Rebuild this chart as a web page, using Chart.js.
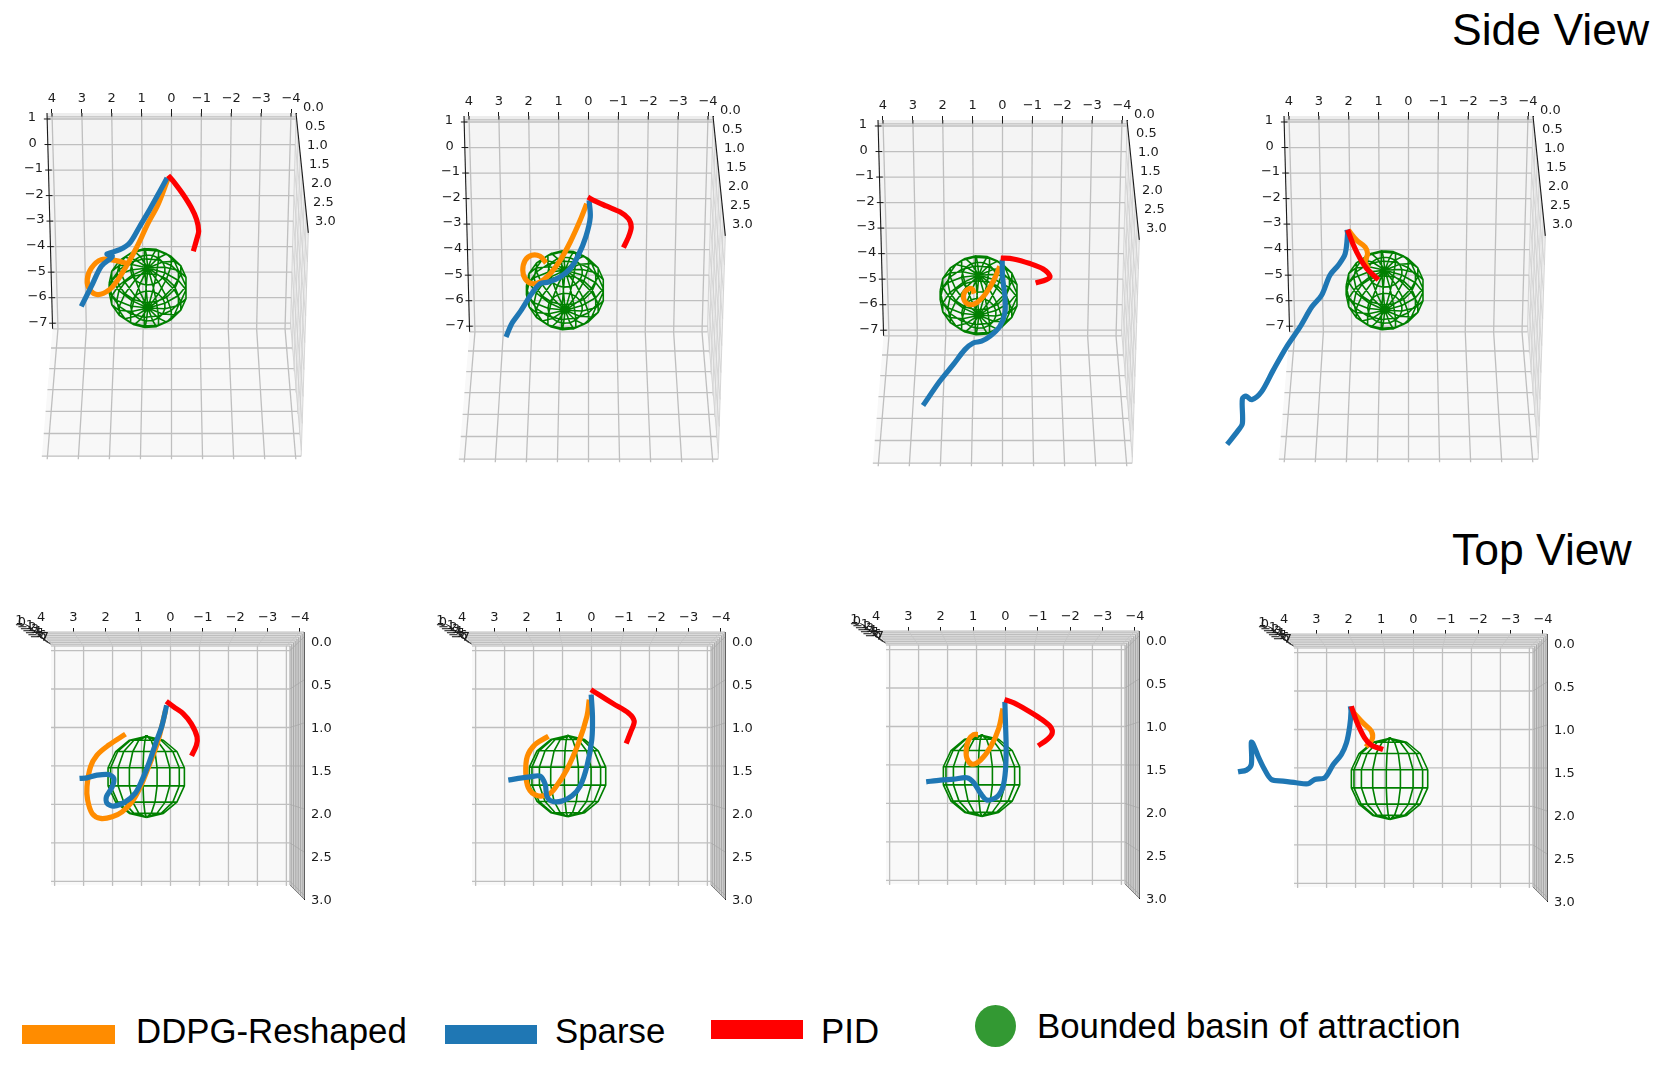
<!DOCTYPE html>
<html>
<head>
<meta charset="utf-8">
<script src="https://cdn.jsdelivr.net/npm/chart.js@4"></script>
<style>
html,body{margin:0;padding:0;background:#fff}
#page{position:relative;width:1669px;height:1067px;overflow:hidden;background:#fff;font-family:"Liberation Sans",Arial,sans-serif;color:#000}
canvas{position:absolute}
.t{position:absolute;white-space:nowrap;line-height:1}
.sw{position:absolute}
</style>
</head>
<body>
<div id="page">
<div class="t" style="left:1452px;top:8px;font-size:44.5px">Side View</div>
<div class="t" style="left:1452px;top:528px;font-size:44.5px">Top View</div>
<div class="sw" style="left:22px;top:1025px;width:93px;height:19px;background:#ff8c00"></div>
<div class="t" style="left:136px;top:1014px;font-size:34.8px">DDPG-Reshaped</div>
<div class="sw" style="left:445px;top:1025px;width:92px;height:19px;background:#1f77b4"></div>
<div class="t" style="left:555px;top:1014px;font-size:34.8px">Sparse</div>
<div class="sw" style="left:711px;top:1020px;width:92px;height:19px;background:#ff0000"></div>
<div class="t" style="left:821px;top:1014px;font-size:34.8px">PID</div>
<div class="sw" style="left:975px;top:1005px;width:41px;height:42px;border-radius:50%;background:#339933"></div>
<div class="t" style="left:1037px;top:1009px;font-size:34.8px">Bounded basin of attraction</div>
</div>
<script>
// ---- tick labels ----
const xTickValues=[4,3,2,1,0,-1,-2,-3,-4];
const sideYTicks=[1,0,-1,-2,-3,-4,-5,-6,-7];
const depthTicks=[0,0.5,1,1.5,2,2.5,3];

// ---- side view trajectories: [x, z] ----
const side1Red=[[.11,-1.21],[-.11,-1.51],[-.39,-1.96],[-.67,-2.49],[-.84,-2.94],[-.91,-3.40],[-.84,-3.73],[-.73,-4.18]];
const side1Blue=[[.15,-1.31],[.39,-1.83],[.73,-2.55],[1.06,-3.20],[1.40,-3.86],[1.73,-4.12],[2.16,-4.29],[1.98,-4.38],[2.35,-4.77],[2.68,-5.55],[3.02,-6.34]];
const side1Orange=[[.11,-1.31],[.45,-2.35],[.78,-3.07],[1.12,-3.92],[1.45,-4.64],[1.79,-5.29],[2.07,-5.68],[2.46,-5.88],[2.74,-5.68],[2.82,-5.29],[2.68,-4.84],[2.35,-4.51],[1.90,-4.54],[1.45,-4.67]];
const side2Red=[[.02,-1.94],[-.17,-2.07],[-.61,-2.30],[-1.06,-2.53],[-1.34,-2.79],[-1.43,-3.11],[-1.34,-3.50],[-1.17,-3.92]];
const side2Blue=[[-.02,-2.07],[-.06,-2.72],[.09,-3.50],[.34,-4.22],[.61,-4.74],[.95,-5.07],[1.34,-5.27],[1.62,-5.33],[1.90,-5.72],[2.29,-6.44],[2.57,-6.90],[2.76,-7.42]];
const side2Orange=[[.06,-2.20],[.28,-2.85],[.61,-3.70],[.95,-4.42],[1.28,-4.94],[1.62,-5.27],[1.90,-5.33],[2.12,-5.14],[2.20,-4.81],[2.12,-4.42],[1.90,-4.22],[1.62,-4.26],[1.42,-4.52]];
const side3Red=[[.06,-4.17],[-.36,-4.21],[-.92,-4.39],[-1.36,-4.60],[-1.59,-4.89],[-1.47,-5.02],[-1.11,-5.15]];
const side3Blue=[[.01,-4.24],[0,-4.89],[-.08,-5.67],[-.08,-6.32],[.09,-6.85],[.42,-7.24],[.70,-7.43],[.98,-7.50],[1.26,-7.76],[1.65,-8.35],[2.10,-9.00],[2.66,-9.95]];
const side3Orange=[[.09,-4.50],[.31,-5.08],[.59,-5.61],[.87,-5.93],[1.09,-6.00],[1.26,-5.87],[1.30,-5.61],[1.18,-5.41],[1.01,-5.38],[.95,-5.57]];
const side4Red=[[2.04,-3.22],[1.84,-3.83],[1.62,-4.35],[1.40,-4.74],[1.01,-5.18]];
const side4Blue=[[2.06,-3.22],[2.04,-3.37],[2.12,-4.16],[2.35,-4.61],[2.63,-5.00],[2.91,-5.79],[3.24,-6.25],[3.63,-7.03],[4.08,-7.81],[4.53,-8.73],[4.92,-9.57],[5.25,-9.88],[5.44,-9.74],[5.56,-9.84],[5.56,-10.81],[5.70,-11.08],[6.07,-11.63]];
const side4Orange=[[2.01,-3.24],[1.73,-3.64],[1.45,-3.90],[1.37,-4.16],[1.45,-4.48],[1.34,-4.74]];

// ---- top view trajectories: [x, y] ----
const top1Red=[[.13,.747],[-.10,.813],[-.39,.890],[-.64,1.007],[-.82,1.161],[-.80,1.258],[-.65,1.382]];
const top1Blue=[[.12,.794],[.26,1.026],[.46,1.239],[.67,1.471],[.88,1.665],[1.08,1.812],[1.39,1.916],[1.75,1.967],[1.96,1.936],[1.98,1.858],[1.80,1.742],[1.75,1.645],[1.91,1.599],[2.27,1.607],[2.58,1.638],[2.81,1.645]];
const top1Orange=[[.15,.852],[.41,1.239],[.72,1.549],[.93,1.742],[1.19,1.916],[1.49,2.032],[1.80,2.091],[2.16,2.110],[2.42,2.052],[2.56,1.897],[2.58,1.742],[2.47,1.510],[2.27,1.374],[1.91,1.258],[1.39,1.130]];
const top2Red=[[.02,.612],[-.27,.681],[-.68,.778],[-1.14,.883],[-1.32,.979],[-1.22,1.096],[-1.07,1.239]];
const top2Blue=[[.01,.670],[-.03,.921],[-.01,1.192],[.14,1.502],[.35,1.734],[.61,1.850],[.92,1.909],[1.23,1.909],[1.38,1.850],[1.43,1.715],[1.59,1.618],[1.90,1.626],[2.26,1.645],[2.57,1.665]];
const top2Orange=[[.07,.728],[.14,.921],[.40,1.231],[.76,1.541],[1.12,1.754],[1.33,1.831],[1.69,1.843],[1.95,1.754],[2.03,1.580],[1.98,1.386],[1.74,1.250],[1.33,1.154]];
const top3Red=[[.03,.739],[-.26,.778],[-.67,.863],[-1.08,.960],[-1.39,1.057],[-1.44,1.134],[-1.29,1.204],[-1.01,1.277]];
const top3Blue=[[.02,.767],[0,1.018],[-.02,1.289],[0,1.560],[.08,1.754],[.26,1.870],[.57,1.909],[.77,1.831],[.98,1.707],[1.19,1.649],[1.60,1.665],[2.01,1.676],[2.45,1.696]];
const top3Orange=[[.08,.844],[.21,1.076],[.46,1.289],[.77,1.444],[1.03,1.491],[1.19,1.425],[1.21,1.309],[1.13,1.204],[.98,1.146],[.85,1.146]];
const top4Red=[[1.92,.782],[1.76,.956],[1.51,1.150],[1.30,1.235],[.94,1.285]];
const top4Blue=[[1.95,.782],[1.93,.840],[1.97,1.014],[2.07,1.208],[2.23,1.344],[2.48,1.460],[2.74,1.614],[3.05,1.634],[3.26,1.684],[3.62,1.672],[4.03,1.653],[4.39,1.634],[4.60,1.518],[4.80,1.363],[4.96,1.216],[5.01,1.200],[5.01,1.460],[5.16,1.525],[5.42,1.545]];
const top4Orange=[[1.89,.840],[1.56,.976],[1.30,1.072],[1.28,1.169],[1.47,1.254]];

// ---- basin spheres: [centre x, centre y, radius x, radius y] ----
const side1Sphere=[.79,-5.62,1.33,1.57];
const side2Sphere=[.78,-5.59,1.33,1.57];
const side3Sphere=[.79,-5.63,1.33,1.57];
const side4Sphere=[.79,-5.59,1.33,1.57];
const top1Sphere=[.74,1.626,1.22,.472];
const top2Sphere=[.73,1.618,1.22,.472];
const top3Sphere=[.73,1.626,1.22,.472];
const top4Sphere=[.73,1.626,1.22,.472];

// ---- panel layout ----
const sidePanels=[
 {ox:171.67,oy:113.33,red:side1Red,blue:side1Blue,orange:side1Orange,sphere:side1Sphere},
 {ox:588.33,oy:115.67,red:side2Red,blue:side2Blue,orange:side2Orange,sphere:side2Sphere},
 {ox:1002.67,oy:120.33,red:side3Red,blue:side3Blue,orange:side3Orange,sphere:side3Sphere},
 {ox:1408.33,oy:115.67,red:side4Red,blue:side4Blue,orange:side4Orange,sphere:side4Sphere}];
const topPanels=[
 {ox:170,oy:631.67,red:top1Red,blue:top1Blue,orange:top1Orange,sphere:top1Sphere},
 {ox:591.33,oy:632.33,red:top2Red,blue:top2Blue,orange:top2Orange,sphere:top2Sphere},
 {ox:1005,oy:630.67,red:top3Red,blue:top3Blue,orange:top3Orange,sphere:top3Sphere},
 {ox:1413.67,oy:634.33,red:top4Red,blue:top4Blue,orange:top4Orange,sphere:top4Sphere}];

const TICK_FONT={family:'"DejaVu Sans"',size:13};
const TEXT='#1c1c1c', AXIS='#1a1a1a', GRID='#bfbfbf';
const minusFmt=v=>v<0?'\u2212'+(-v):String(v);
const toPts=a=>a.map(p=>({x:p[0],y:p[1]}));

// wireframe of the basin
function wire(s,tiltDeg){
  const [cx,cy,rx,ry]=s, a=tiltDeg*Math.PI/180, pts=[];
  const sa=Math.sin(a), ca=Math.cos(a), N=17, M=7;
  const P=(t,f)=>({x:cx+rx*Math.sin(t)*Math.cos(f),y:cy+ry*(Math.cos(t)*sa+Math.sin(t)*Math.sin(f)*ca)});
  for(let j=1;j<M;j++){for(let i=0;i<=N;i++)pts.push(P(j*Math.PI/M,i*2*Math.PI/N));pts.push({x:null,y:null});}
  for(let i=0;i<N;i++){for(let j=0;j<=M;j++)pts.push(P(j*Math.PI/M,i*2*Math.PI/N));pts.push({x:null,y:null});}
  return pts;
}
function datasets(p,tilt){
  const line=(d,c,w,lbl,ten)=>({label:lbl,data:d,showLine:true,borderColor:c,backgroundColor:c,borderWidth:w,pointRadius:0,tension:ten,clip:false,spanGaps:false,borderCapStyle:'butt',borderJoinStyle:'round'});
  return [
    line(toPts(p.red),'#ff0000',5.2,'PID',.3),
    line(toPts(p.blue),'#1f77b4',5.2,'Sparse',.3),
    line(toPts(p.orange),'#ff8c00',5.2,'DDPG-Reshaped',.35),
    line(wire(p.sphere,tilt),'#008000',1.6,'Bounded basin of attraction',0)
  ];
}
const lerp=(a,b,t)=>[a[0]+(b[0]-a[0])*t,a[1]+(b[1]-a[1])*t];

// ---- side view box drawn through the chart's scales ----
const S={yTop:1.235,yCeil:1.08,yB:-7.22,yF:-12.21,hTop:4.167,hB:3.98,hF:4.34,kB:.95,kF:1.04};
const sideFloorY=[-7.97,-8.78,-9.60,-10.45,-11.32,-12.21];
function sideHalf(y){return y>=S.yB? S.hB+(S.hTop-S.hB)*(y-S.yB)/(S.yTop-S.yB) : S.hB+(S.hF-S.hB)*(S.yB-y)/(S.yB-S.yF);}
const sidePlugin={id:'sideBox',beforeDatasetsDraw(c){
  const g=c.ctx,X=c.scales.x,Y=c.scales.y,P=(p)=>[X.getPixelForValue(p[0]),Y.getPixelForValue(p[1])];
  const poly=(pts,f)=>{g.beginPath();pts.map(P).forEach((q,i)=>i?g.lineTo(q[0],q[1]):g.moveTo(q[0],q[1]));g.closePath();g.fillStyle=f;g.fill();};
  const seg=(a,b,col,w)=>{a=P(a);b=P(b);g.beginPath();g.moveTo(a[0],a[1]);g.lineTo(b[0],b[1]);g.strokeStyle=col;g.lineWidth=w;g.stroke();};
  g.save();
  const hC=sideHalf(S.yCeil);
  poly([[S.hTop,S.yTop],[-S.hTop,S.yTop],[-hC,S.yCeil],[hC,S.yCeil]],'#ededed');
  poly([[hC,S.yCeil],[-hC,S.yCeil],[-S.hB,S.yB],[S.hB,S.yB]],'#f4f4f4');
  poly([[S.hB,S.yB],[-S.hB,S.yB],[-S.hF,S.yF],[S.hF,S.yF]],'#f8f8f8');
  const A=[-S.hTop,S.yCeil],B=[-4.58,-3.46],C=[-S.hF,S.yF],D=[-S.hB,S.yB];
  poly([A,B,C,D],'#eeeeee');
  for(let i=0;i<=6;i++) seg(lerp(A,B,i/6),lerp(D,C,i/6),'#d2d2d2',.9);
  sideYTicks.forEach(v=>{const t=(S.yCeil-v)/(S.yCeil-S.yB);seg([-sideHalf(v),v],lerp(B,C,t),'#d2d2d2',.9);});
  seg([S.hB,S.yB],[-S.hB,S.yB],GRID,1.2);
  seg([hC,S.yCeil],[-hC,S.yCeil],GRID,1.2);
  xTickValues.forEach(v=>{seg([v,S.yTop],[v*S.kB,S.yB],GRID,1.3);seg([v*S.kB,S.yB],[v*S.kF,S.yF-.12],GRID,1.3);});
  sideYTicks.forEach(v=>{const h=sideHalf(v);seg([h,v],[-h,v],GRID,1.3);});
  sideFloorY.forEach(v=>{const h=sideHalf(v);seg([h,v],[-h,v],GRID,1.3);});
  // axes
  seg([S.hTop,S.yTop],[S.hB,S.yB],AXIS,1.1);
  seg([-S.hTop,S.yTop],[-4.58,-3.46],AXIS,1.1);
  xTickValues.forEach(v=>seg([v,S.yTop],[v,S.yTop-.14],AXIS,1));
  g.font='13px "DejaVu Sans"';g.fillStyle=TEXT;g.textAlign='center';g.textBaseline='middle';
  sideYTicks.forEach(v=>{
    const h=sideHalf(v),q=P([h,v]);
    g.strokeStyle=AXIS;g.lineWidth=1;g.beginPath();g.moveTo(q[0]-3.3,q[1]);g.lineTo(q[0]+3.3,q[1]);g.stroke();
    const lx=P([4.47+(4.67-4.47)*(v+7)/8,v]);
    g.fillText(minusFmt(v),lx[0],lx[1]-1);
  });
  depthTicks.forEach(d=>{const q=P([-4.75-d*.1333,1.5-d*1.49]);g.fillText(d.toFixed(1),q[0],q[1]+1);});
  g.restore();
}};

// ---- top view box drawn through the chart's scales ----
const T={h:4.124,dt:-.058,db:3.047,k:.895,dc:1.5,leftFront:3.97};
const topPlugin={id:'topBox',beforeDatasetsDraw(c){
  const g=c.ctx,X=c.scales.x,Y=c.scales.y,P=(p)=>[X.getPixelForValue(p[0]),Y.getPixelForValue(p[1])];
  const W=(s,x,d)=>[s*x,T.dc+s*(d-T.dc)];
  const poly=(pts,f)=>{g.beginPath();pts.map(P).forEach((q,i)=>i?g.lineTo(q[0],q[1]):g.moveTo(q[0],q[1]));g.closePath();g.fillStyle=f;g.fill();};
  const seg=(a,b,col,w)=>{a=P(a);b=P(b);g.beginPath();g.moveTo(a[0],a[1]);g.lineTo(b[0],b[1]);g.strokeStyle=col;g.lineWidth=w;g.stroke();};
  g.save();
  const k=T.k,h=T.h;
  const wTL=W(k,h,T.dt),wTR=W(k,-h,T.dt),wBR=W(k,-h,T.db),wBL=W(k,h,T.db);
  const fTL=[T.leftFront,T.dt],fTR=[-h,T.dt],fBR=[-h,T.db];
  poly([wTL,wTR,wBR,wBL],'#f9f9f9');
  poly([wTL,wTR,fTR,fTL],'#e4e4e4');
  poly([wTR,fTR,fBR,wBR],'#dadada');
  for(let i=0;i<=8;i++){
    const t=i/8,a=lerp(wTL,fTL,t),b=lerp(wTR,fTR,t),e=lerp(wBR,fBR,t);
    seg(a,b,'#bcbcbc',1);seg(b,e,'#a8a8a8',1);
  }
  xTickValues.forEach(v=>{seg(W(k,v,T.dt),[v,T.dt],'#c4c4c4',.8);seg(W(k,v,T.dt),W(k,v,T.db+.012),GRID,1.3);});
  depthTicks.forEach(d=>{seg(W(k,-h,d),[-h,d],'#a8a8a8',.8);seg(W(k,h,d),W(k,-h,d),GRID,1.3);});
  seg(wBR,fBR,'#777',.9);
  // pile of depth-axis labels seen end-on
  g.font='13px "DejaVu Sans"';g.fillStyle=TEXT;g.textAlign='center';g.textBaseline='middle';
  sideYTicks.forEach((v,i)=>{
    const q=P([4.67-(4.67-4.05)*i/8,-.186+(.008+.186)*i/8]);
    g.fillText(minusFmt(v),q[0],q[1]);
    g.strokeStyle=AXIS;g.lineWidth=1;g.beginPath();g.moveTo(q[0]+6,q[1]+3.5);g.lineTo(q[0]+11,q[1]+6);g.stroke();
  });
  g.restore();
}};

function xScale(hw){
  return {type:'linear',position:'top',reverse:true,min:-hw,max:hw,
    afterBuildTicks:s=>{s.ticks=xTickValues.map(value=>({value}));},
    afterFit:s=>{s.height=26;s.paddingLeft=0;s.paddingRight=0;},
    border:{display:true,color:AXIS,width:1},
    grid:{drawOnChartArea:false,drawTicks:true,tickLength:4,tickColor:AXIS},
    ticks:{autoSkip:false,maxRotation:0,minRotation:0,font:TICK_FONT,color:TEXT,padding:3,callback:minusFmt}};
}
const base={responsive:false,maintainAspectRatio:false,animation:false,events:[],
  elements:{line:{capBezierPoints:false}},
  plugins:{legend:{display:false},tooltip:{enabled:false},title:{display:false}}};

function place(frameLeft,frameTop,W,H,L,Rt,Tp,Bt){
  const cv=document.createElement('canvas');
  cv.width=L+W+Rt;cv.height=Tp+H+Bt;
  cv.style.left=Math.round(frameLeft-L)+'px';cv.style.top=Math.round(frameTop-Tp)+'px';
  document.getElementById('page').appendChild(cv);
  return cv;
}
sidePanels.forEach(p=>{
  const W=249,H=351,L=70,R=60,Tp=32,Bt=10;
  const cv=place(p.ox-124.5,p.oy,W,H,L,R,Tp,Bt);
  new Chart(cv,{type:'scatter',data:{datasets:datasets(p,30)},plugins:[sidePlugin],
    options:Object.assign({},base,{layout:{padding:{left:L,right:R,top:Tp-26,bottom:Bt}},
      scales:{x:xScale(4.167),y:{type:'linear',display:false,min:-12.515,max:1.235}}})});
});
topPanels.forEach(p=>{
  const W=267,H=267,L=70,R=60,Tp=32,Bt=10;
  const cv=place(p.ox-133.5,p.oy,W,H,L,R,Tp,Bt);
  new Chart(cv,{type:'scatter',data:{datasets:datasets(p,90)},plugins:[topPlugin],
    options:Object.assign({},base,{layout:{padding:{left:L,right:0,top:Tp-26,bottom:Bt}},
      scales:{x:xScale(4.124),
        y:{type:'linear',position:'right',reverse:true,min:-.058,max:3.047,
          afterBuildTicks:s=>{s.ticks=depthTicks.map(value=>({value}));},
          afterFit:s=>{s.width=R;s.paddingTop=0;s.paddingBottom=0;},
          border:{display:true,color:AXIS,width:1},
          grid:{drawOnChartArea:false,drawTicks:false,tickLength:0},
          ticks:{autoSkip:false,font:TICK_FONT,color:TEXT,padding:7,labelOffset:6,callback:v=>v.toFixed(1)}}}})});
});
</script>
</body>
</html>
